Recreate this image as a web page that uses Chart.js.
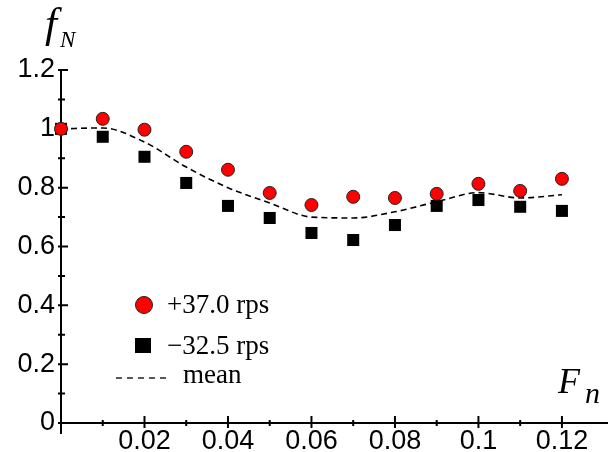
<!DOCTYPE html>
<html>
<head>
<meta charset="utf-8">
<script src="https://cdn.jsdelivr.net/npm/chart.js@4.4.1/dist/chart.umd.min.js"></script>
<style>
  html, body { margin: 0; padding: 0; background: #fff; }
  #grafico { display: block; }
</style>
</head>
<body>
<canvas id="grafico" width="608" height="452"></canvas>
<script>
// Dados
const froude = [0, 0.01, 0.02, 0.03, 0.04, 0.05, 0.06, 0.07, 0.08, 0.09, 0.10, 0.11, 0.12];
const fnMais = [1.0, 1.034, 0.997, 0.922, 0.861, 0.782, 0.741, 0.769, 0.765, 0.779, 0.813, 0.789, 0.830];
const fnMenos = [1.0, 0.973, 0.905, 0.816, 0.738, 0.697, 0.646, 0.622, 0.673, 0.738, 0.758, 0.735, 0.721];
const fnMedia = [1.0, 1.003, 0.955, 0.870, 0.800, 0.748, 0.700, 0.697, 0.718, 0.752, 0.783, 0.765, 0.776];

const xTicksMaiores = [0.02, 0.04, 0.06, 0.08, 0.10, 0.12];
const xTicksMenores = [0.01, 0.03, 0.05, 0.07, 0.09, 0.11];
const yTicksMaiores = [0, 0.2, 0.4, 0.6, 0.8, 1.0, 1.2];
const yTicksMenores = [0.1, 0.3, 0.5, 0.7, 0.9, 1.1];
const legendas = ['+37.0 rps', '\u221232.5 rps', 'mean'];

const pontos = (ys) => froude.map((x, i) => ({ x, y: ys[i] }));

// Eixos desenhados antes dos pontos
const eixosPlugin = {
    id: 'eixos',
    beforeDatasetsDraw(chart) {
        const { ctx, scales: { x, y } } = chart;
        const x0 = x.getPixelForValue(0);
        const y0 = y.getPixelForValue(0);
        ctx.save();
        ctx.strokeStyle = '#000';
        ctx.lineWidth = 2;
        ctx.beginPath();
        ctx.moveTo(x0, y.getPixelForValue(1.2));
        ctx.lineTo(x0, y0 + 11);
        ctx.moveTo(x0 - 1, y0);
        ctx.lineTo(chart.width, y0);
        yTicksMaiores.forEach(v => {
            const p = y.getPixelForValue(v);
            ctx.moveTo(x0 - 3, p); ctx.lineTo(x0 + 7, p);
        });
        yTicksMenores.forEach(v => {
            const p = y.getPixelForValue(v);
            ctx.moveTo(x0 - 3, p); ctx.lineTo(x0 + 4, p);
        });
        xTicksMaiores.forEach(v => {
            const p = x.getPixelForValue(v);
            ctx.moveTo(p, y0 - 7); ctx.lineTo(p, y0 + 5);
        });
        xTicksMenores.forEach(v => {
            const p = x.getPixelForValue(v);
            ctx.moveTo(p, y0 - 3); ctx.lineTo(p, y0 + 3);
        });
        ctx.stroke();
        ctx.restore();
    },
    afterDraw(chart) {
        const { ctx } = chart;
        const ds = chart.data.datasets;
        ctx.save();
        ctx.fillStyle = '#000';
        ctx.textBaseline = 'alphabetic';

        // Titulos dos eixos
        ctx.font = 'italic 43px "Liberation Serif"';
        ctx.fillText('f', 45, 37);
        ctx.font = 'italic 23px "Liberation Serif"';
        ctx.fillText('N', 60, 47);
        ctx.font = 'italic 36px "Liberation Serif"';
        ctx.fillText('F', 558, 393);
        ctx.font = 'italic 30px "Liberation Serif"';
        ctx.fillText('n', 585, 403);

        // Legenda
        ctx.beginPath();
        ctx.arc(144, 305, 8.5, 0, Math.PI * 2);
        ctx.fillStyle = ds[0].backgroundColor;
        ctx.fill();
        ctx.lineWidth = 1;
        ctx.strokeStyle = ds[0].borderColor;
        ctx.stroke();
        ctx.fillStyle = '#000';
        ctx.fillRect(135, 338, 16, 15);
        ctx.beginPath();
        ctx.setLineDash([6, 5]);
        ctx.lineWidth = 1.3;
        ctx.moveTo(116, 378);
        ctx.lineTo(170, 378);
        ctx.stroke();
        ctx.setLineDash([]);
        ctx.font = '27px "Liberation Serif"';
        ctx.fillText(legendas[0], 167, 313);
        ctx.fillText(legendas[1], 167, 354);
        ctx.fillText(legendas[2], 183, 383);
        ctx.restore();
    }
};

new Chart(document.getElementById('grafico'), {
    type: 'scatter',
    data: {
        datasets: [
            {
                label: legendas[0],
                data: pontos(fnMais),
                pointStyle: 'circle',
                pointRadius: 6.5,
                backgroundColor: '#ff0000',
                borderColor: '#222',
                borderWidth: 1,
                clip: false
            },
            {
                label: legendas[1],
                data: pontos(fnMenos),
                pointStyle: 'rect',
                pointRadius: 8.5,
                backgroundColor: '#000',
                borderColor: '#000',
                borderWidth: 0,
                clip: false
            },
            {
                label: legendas[2],
                data: pontos(fnMedia),
                showLine: true,
                pointRadius: 0,
                borderColor: '#000',
                borderWidth: 1.6,
                borderDash: [6, 4],
                cubicInterpolationMode: 'monotone',
                clip: false
            }
        ]
    },
    options: {
        responsive: false,
        animation: false,
        layout: { padding: { top: 70, left: 0, right: 0, bottom: 0 } },
        plugins: { legend: { display: false }, tooltip: { enabled: false } },
        scales: {
            x: {
                type: 'linear',
                min: 0,
                max: 0.129,
                grid: { display: false, drawTicks: false },
                border: { display: false },
                afterFit: (s) => { s.height = 29; },
                afterBuildTicks: (s) => { s.ticks = xTicksMaiores.map(v => ({ value: v })); },
                ticks: {
                    padding: 2,
                    color: '#000',
                    font: { family: '"Liberation Sans"', size: 27 },
                    maxRotation: 0,
                    autoSkip: false,
                    callback: (v) => String(Math.round(v * 100) / 100)
                }
            },
            y: {
                min: 0,
                max: 1.2,
                grid: { display: false, drawTicks: false },
                border: { display: false },
                afterFit: (s) => { s.width = 61; },
                afterBuildTicks: (s) => { s.ticks = yTicksMaiores.map(v => ({ value: v })); },
                ticks: {
                    padding: 6,
                    color: '#000',
                    font: { family: '"Liberation Sans"', size: 27 },
                    autoSkip: false,
                    callback: (v) => String(Math.round(v * 10) / 10)
                }
            }
        }
    },
    plugins: [eixosPlugin]
});
</script>
</body>
</html>
